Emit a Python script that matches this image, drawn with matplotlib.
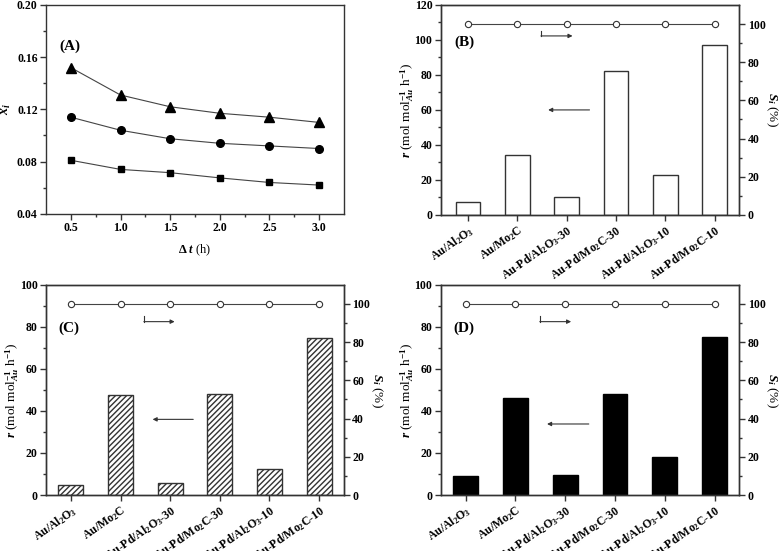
import matplotlib
matplotlib.use("Agg")
import matplotlib.pyplot as plt
import matplotlib.transforms as mtrans
import numpy as np

plt.rcParams['font.family'] = 'Liberation Serif'
plt.rcParams['font.weight'] = 'bold'
plt.rcParams['mathtext.fontset'] = 'custom'
plt.rcParams['mathtext.rm'] = 'Liberation Serif:bold'
plt.rcParams['mathtext.it'] = 'Liberation Serif:italic:bold'
plt.rcParams['mathtext.bf'] = 'Liberation Serif:bold'
plt.rcParams['axes.linewidth'] = 1.0
plt.rcParams['axes.edgecolor'] = '#333333'

# panel A data
dt = [0.5, 1.0, 1.5, 2.0, 2.5, 3.0]
x_tri = [0.152, 0.131, 0.122, 0.117, 0.114, 0.110]
x_cir = [0.114, 0.104, 0.0975, 0.094, 0.092, 0.090]
x_sq = [0.081, 0.074, 0.0715, 0.0675, 0.064, 0.062]

# bar panels
cats = ['Au/Al$_2$O$_3$', 'Au/Mo$_2$C', 'Au-Pd/Al$_2$O$_3$-30',
        'Au-Pd/Mo$_2$C-30', 'Au-Pd/Al$_2$O$_3$-10', 'Au-Pd/Mo$_2$C-10']
rate_B = [7.5, 34, 10, 82, 23, 97]
rate_C = [5, 47.5, 5.8, 48, 12.5, 74.7]
rate_D = [9, 46.3, 9.5, 48, 18, 75]
sel = [100, 100, 100, 100, 100, 100]

fig = plt.figure(figsize=(7.8, 5.51), dpi=100)

lc = '#333333'
tick_kw = dict(labelsize=8.5, colors=lc, labelcolor='black', pad=2)

############ (A) ############
axA = fig.add_axes([0.059, 0.612, 0.382, 0.379])
for y, m, s in [(x_tri, '^', 6.5), (x_cir, 'o', 5.5), (x_sq, 's', 5)]:
    axA.plot(dt, y, color='#444444', lw=0.8, marker=m, ms=s,
             mfc='black', mec='black')
axA.set_xlim(0.25, 3.25)
axA.set_ylim(0.04, 0.20)
axA.set_xticks([0.5, 1.0, 1.5, 2.0, 2.5, 3.0])
axA.set_xticks(np.arange(0.75, 3.0, 0.5), minor=True)
axA.set_yticks([0.04, 0.08, 0.12, 0.16, 0.20])
axA.set_yticks([0.06, 0.10, 0.14, 0.18], minor=True)
axA.set_yticklabels(['0.04', '0.08', '0.12', '0.16', '0.20'])
axA.tick_params(which='major', length=4, width=1, **tick_kw)
axA.tick_params(which='minor', length=2, width=1, colors=lc)
axA.set_xlabel(r'$\Delta$ $t$ (h)', fontsize=9, labelpad=6)
axA.set_ylabel(r'$x_i$', fontsize=10, labelpad=3)
axA.text(0.38, 0.168, '(A)', fontsize=11, va='center')


def bar_panel(ax, rates, ylim, yticks, minor, xlim, label, label_xy,
              larrow, barrow, style):
    xs = np.arange(len(cats))
    if style == 'open':
        ax.bar(xs, rates, width=0.5, color='white', edgecolor='#333333', lw=1)
    elif style == 'hatch':
        ax.bar(xs, rates, width=0.5, color='white', edgecolor='#333333',
               lw=1, hatch='//////')
    else:
        ax.bar(xs, rates, width=0.5, color='black', edgecolor='black', lw=1)
    ax.set_xlim(*xlim)
    ax.set_ylim(*ylim)
    ax.set_yticks(yticks)
    ax.set_yticks(minor, minor=True)
    ax.set_xticks(xs)
    ax.set_xticklabels(cats, rotation=35, ha='right', rotation_mode='anchor',
                       fontsize=7.5)
    off = mtrans.ScaledTranslation(0.14, 0.05, fig.dpi_scale_trans)
    for t in ax.get_xticklabels():
        t.set_transform(t.get_transform() + off)
    ax.tick_params(which='major', length=4, width=1, **tick_kw)
    ax.tick_params(which='minor', length=2, width=1, colors=lc)
    ax.set_ylabel(r'$r$ (mol mol$^{-1}_{Au}$ h$^{-1}$)', fontsize=9.5,
                  labelpad=-1)
    ax.text(label_xy[0], label_xy[1], label, fontsize=11, va='center')

    # arrows
    ax.annotate('', xy=(larrow[0], larrow[2]), xytext=(larrow[1], larrow[2]),
                arrowprops=dict(arrowstyle='-|>', color='#333333', lw=0.8,
                                mutation_scale=6))
    ax.plot([barrow[0], barrow[0]], [barrow[2], barrow[3]], color='#333333',
            lw=0.8)
    ax.annotate('', xy=(barrow[1], barrow[3]), xytext=(barrow[0], barrow[3]),
                arrowprops=dict(arrowstyle='-|>', color='#333333', lw=0.8,
                                mutation_scale=6, shrinkA=0, shrinkB=0))

    ax2 = ax.twinx()
    ax2.plot(xs, sel, color='#444444', lw=0.8, marker='o', ms=4.5,
             mfc='white', mec='#333333', mew=0.8)
    ax2.set_ylim(0, 110)
    ax2.set_yticks([0, 20, 40, 60, 80, 100])
    ax2.set_yticks([10, 30, 50, 70, 90], minor=True)
    ax2.tick_params(which='major', length=4, width=1, **tick_kw)
    ax2.tick_params(which='minor', length=2, width=1, colors=lc)
    ax2.set_ylabel(r'$S_i$ (%)', fontsize=9.5, rotation=270, labelpad=10)
    return ax2


axB = fig.add_axes([0.565, 0.610, 0.383, 0.381])
bar_panel(axB, rate_B, (0, 120), range(0, 121, 20), range(10, 120, 20),
          (-0.55, 5.5), '(B)', (-0.28, 98.5),
          (1.57, 2.52, 60), (1.48, 2.12, 105.3, 102.3), 'open')

axC = fig.add_axes([0.059, 0.1016, 0.382, 0.3814])
bar_panel(axC, rate_C, (0, 100), range(0, 101, 20), range(10, 100, 20),
          (-0.5, 5.5), '(C)', (-0.25, 79.5),
          (1.59, 2.52, 36), (1.47, 2.09, 85.4, 82.5), 'hatch')

axD = fig.add_axes([0.565, 0.1016, 0.383, 0.3814])
bar_panel(axD, rate_D, (0, 100), range(0, 101, 20), range(10, 100, 20),
          (-0.5, 5.5), '(D)', (-0.25, 79.5),
          (1.58, 2.53, 33.8), (1.49, 2.12, 85.4, 82.5), 'solid')

fig.savefig('out.png', dpi=100)
